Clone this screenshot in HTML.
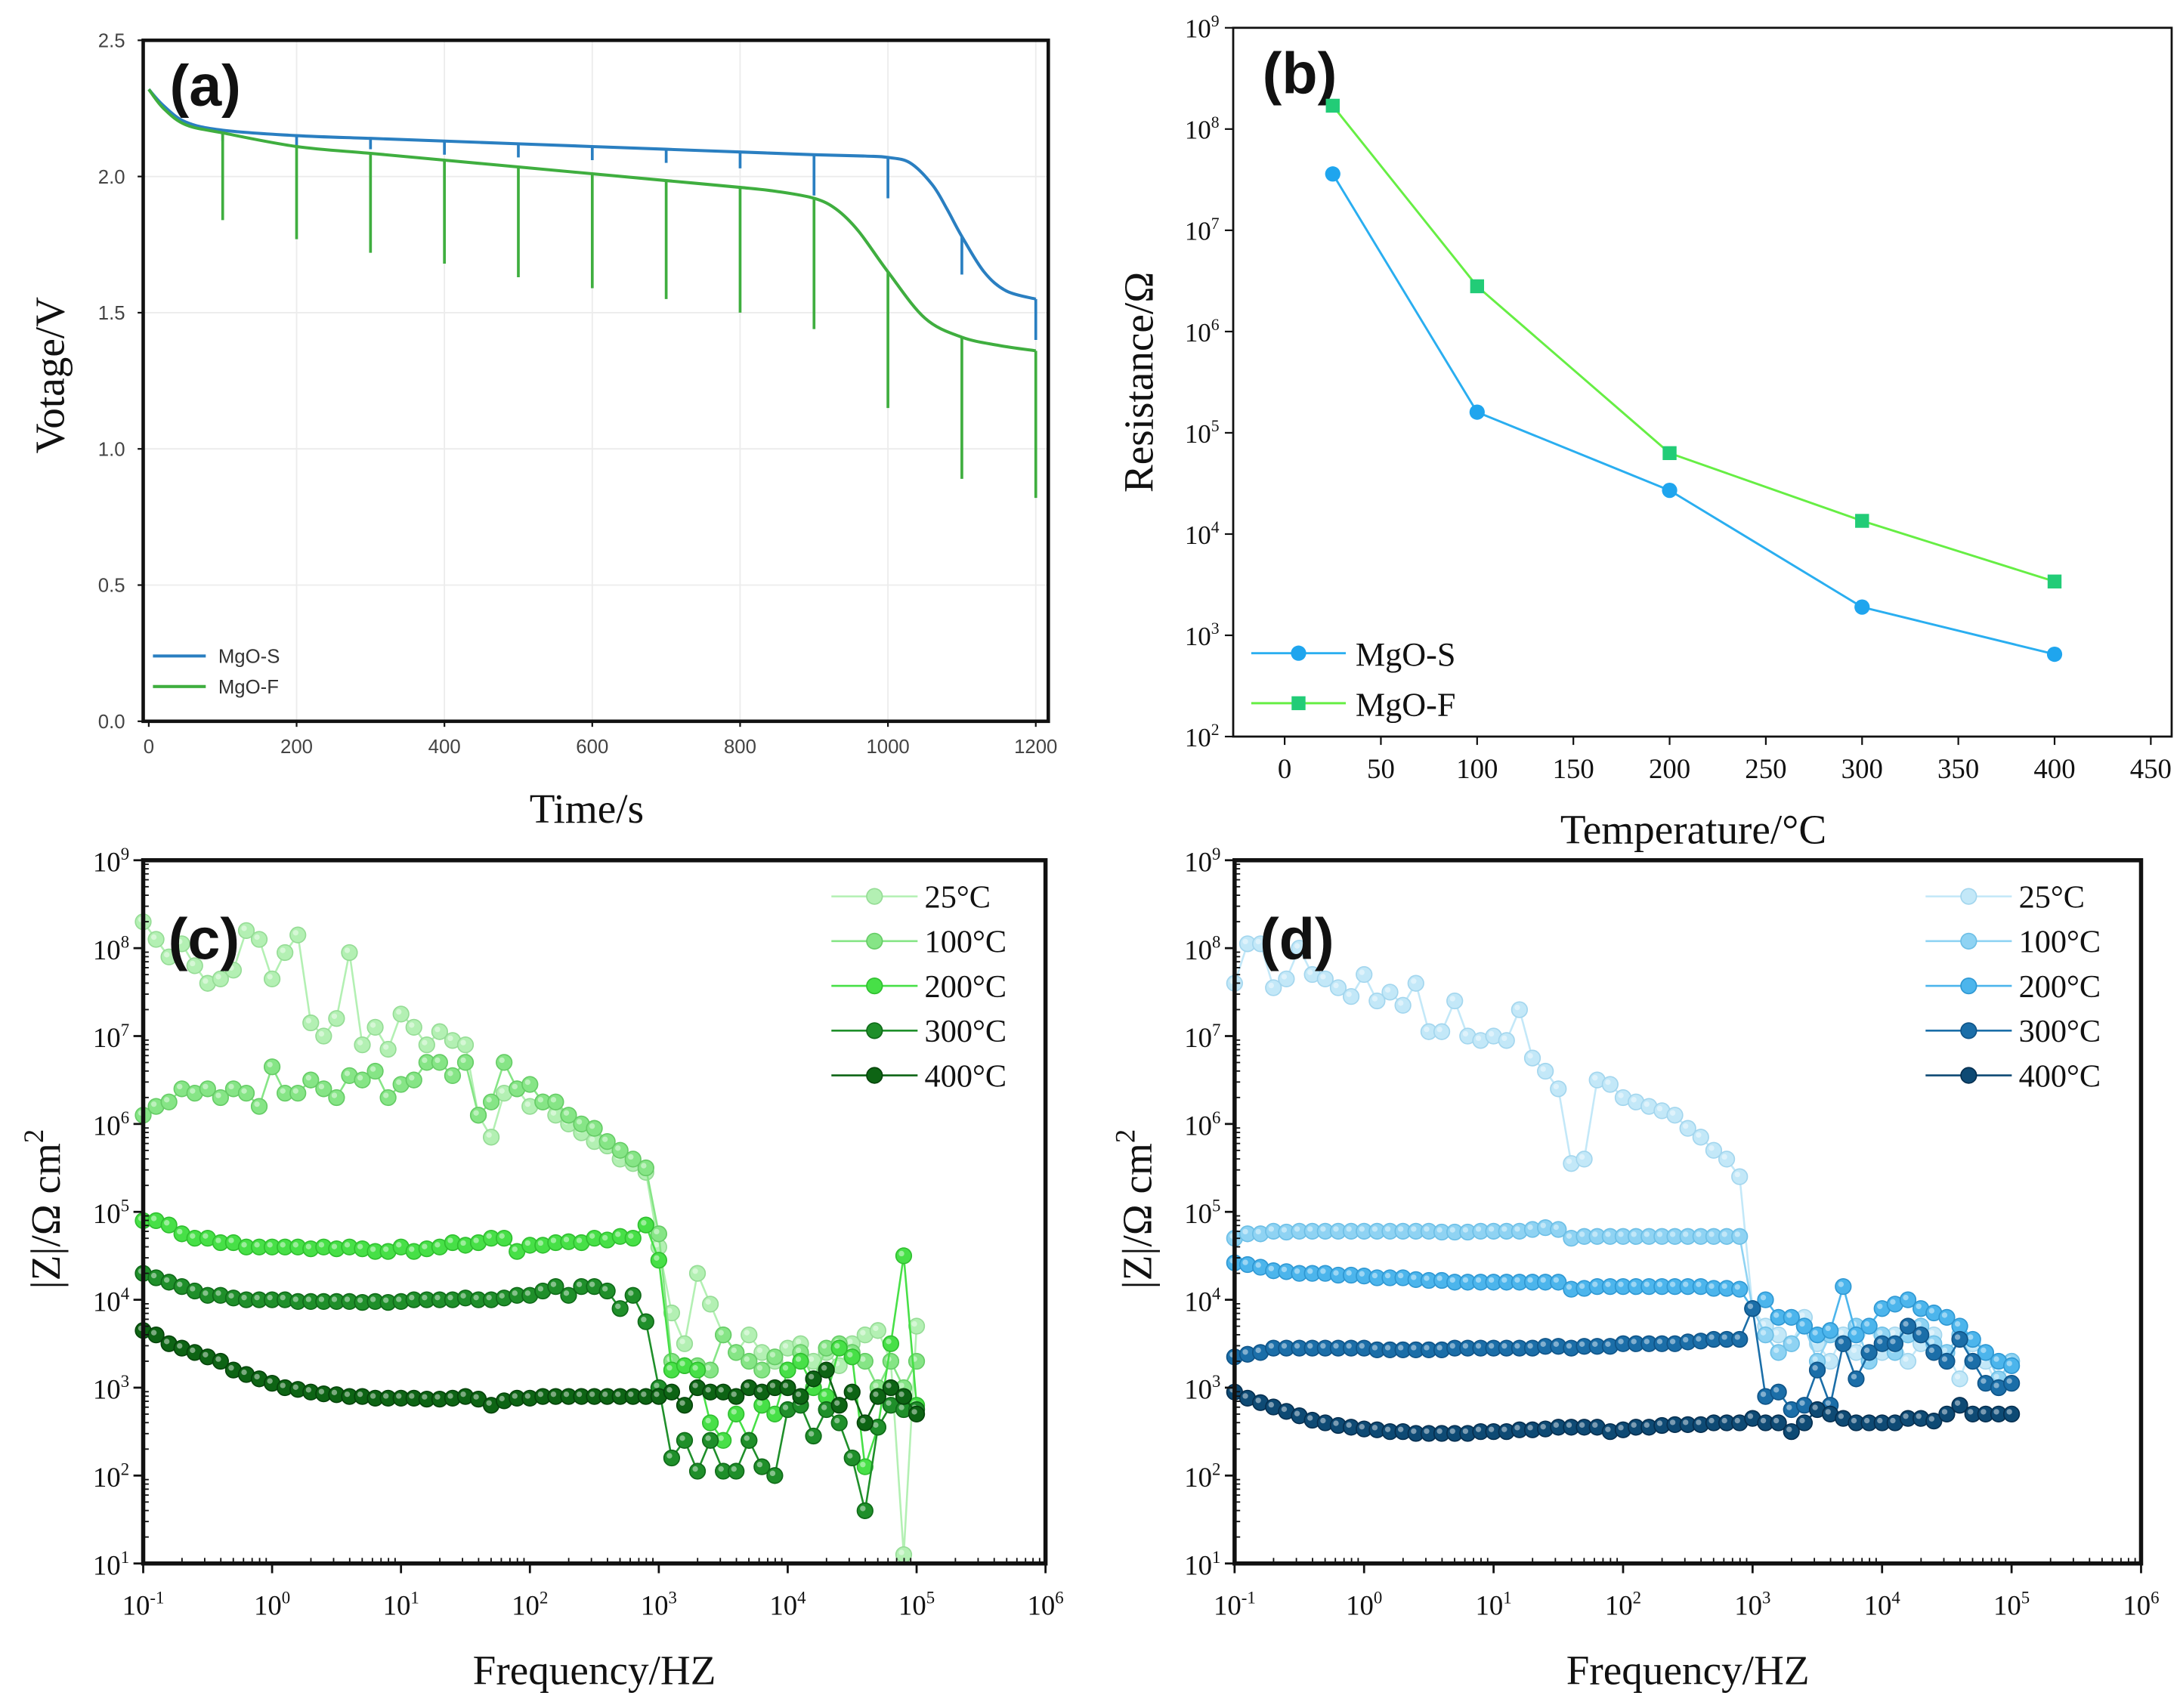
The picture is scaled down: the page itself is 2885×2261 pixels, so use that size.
<!DOCTYPE html>
<html><head><meta charset="utf-8"><style>
html,body{margin:0;padding:0;background:#fff;}
svg{display:block;}
</style></head><body>
<svg id="fig" xmlns="http://www.w3.org/2000/svg" width="2885" height="2261" viewBox="0 0 1568 1229" preserveAspectRatio="none">
<rect x="0" y="0" width="1568" height="1229" fill="#fff"/>
<g id="root"></g>
</svg>
<script>
// ---------- Panel (a) data ----------
const aTimeS = [0,20,50,100,200,300,400,500,600,700,800,900,970,1000,1030,1060,1080,1100,1130,1160,1200];
const aVoltS = [2.32,2.26,2.20,2.17,2.15,2.14,2.13,2.12,2.11,2.10,2.09,2.08,2.075,2.07,2.05,1.97,1.88,1.78,1.65,1.58,1.55];
const aTimeF = [0,20,50,100,200,300,400,500,600,700,800,850,900,930,960,1000,1050,1100,1150,1200];
const aVoltF = [2.32,2.25,2.19,2.16,2.11,2.085,2.06,2.035,2.01,1.985,1.96,1.945,1.92,1.88,1.80,1.65,1.48,1.41,1.38,1.36];
const aPulseT = [100,200,300,400,500,600,700,800,900,1000,1100,1200];
const aPulseMinS = [2.13,2.11,2.10,2.08,2.07,2.06,2.05,2.03,1.93,1.92,1.64,1.40];
const aPulseMinF = [1.84,1.77,1.72,1.68,1.63,1.59,1.55,1.50,1.44,1.15,0.89,0.82];
const aXTicks = [0,200,400,600,800,1000,1200];
const aYTicks = [0.0,0.5,1.0,1.5,2.0,2.5];
// ---------- Panel (b) data ----------
const bTemps = [25,100,200,300,400];
const bResS = [3.6e7,1.6e5,2.7e4,1.9e3,650];
const bResF = [1.7e8,2.8e6,6.3e4,1.35e4,3.4e3];
const bXTicks = [0,50,100,150,200,250,300,350,400,450];
const bYExp = [2,3,4,5,6,7,8,9];
// ---------- Panels (c),(d) data: index i -> f = 10^(-1+i/10) ----------
const freqExp = [-1,0,1,2,3,4,5,6];
const cLabels = ["25°C","100°C","200°C","300°C","400°C"];
const c25 = [8.3,8.1,7.9,8.05,7.8,7.6,7.65,7.75,8.2,8.1, 7.65,7.95,8.15,7.15,7.0,7.2,7.95,6.9,7.1,6.85, 7.25,7.1,6.9,7.05,6.95,6.9,6.1,5.85,6.35,6.4, 6.2,6.25,6.1,6.0,5.9,5.8,5.75,5.6,5.55,5.45, 4.6,3.85,3.5,4.3,3.95,3.6,3.4,3.6,3.4,3.3, 3.45,3.5,3.3,3.4,3.25,3.5,3.6,3.65,3.3,1.1, 3.7];
const c100 = [6.1,6.2,6.25,6.4,6.35,6.4,6.3,6.4,6.35,6.2, 6.65,6.35,6.35,6.5,6.4,6.3,6.55,6.5,6.6,6.3, 6.45,6.5,6.7,6.7,6.55,6.7,6.1,6.25,6.7,6.4, 6.45,6.25,6.25,6.1,6.0,5.95,5.8,5.7,5.6,5.5, 4.75,3.3,3.25,3.25,3.2,3.6,3.4,3.3,3.2,3.35, 3.2,3.4,3.1,3.45,3.5,3.4,3.3,3.0,3.3,3.0, 3.3];
const c200 = [4.9,4.9,4.85,4.75,4.7,4.7,4.65,4.65,4.6,4.6, 4.6,4.6,4.6,4.58,4.6,4.58,4.6,4.58,4.55,4.55, 4.6,4.55,4.58,4.6,4.65,4.62,4.65,4.7,4.7,4.55, 4.62,4.62,4.65,4.66,4.65,4.7,4.68,4.72,4.7,4.85, 4.45,3.2,3.25,3.2,2.6,2.4,2.7,2.4,2.8,2.7, 3.2,3.3,3.0,2.9,3.45,3.35,2.1,2.55,3.5,4.5, 2.8];
const c300 = [4.3,4.25,4.2,4.15,4.1,4.05,4.05,4.02,4.0,4.0, 4.0,4.0,3.98,3.98,3.98,3.98,3.98,3.97,3.98,3.97, 3.98,4.0,4.0,4.0,4.0,4.02,4.0,4.0,4.02,4.05, 4.05,4.1,4.15,4.05,4.15,4.15,4.1,3.9,4.05,3.75, 3.0,2.2,2.4,2.05,2.4,2.05,2.05,2.4,2.1,2.0, 2.75,2.8,2.45,2.75,2.6,2.2,1.6,2.55,2.8,2.75, 2.75];
const c400 = [3.65,3.6,3.5,3.45,3.4,3.35,3.3,3.2,3.15,3.1, 3.05,3.0,2.98,2.95,2.93,2.92,2.9,2.9,2.88,2.88, 2.88,2.88,2.87,2.87,2.88,2.9,2.87,2.8,2.85,2.88, 2.88,2.9,2.9,2.9,2.9,2.9,2.9,2.9,2.9,2.9, 2.9,2.95,2.8,3.0,2.95,2.95,2.9,3.0,2.95,3.0, 3.0,2.9,3.1,3.2,2.8,2.95,2.6,2.9,3.0,2.9, 2.7];
const d25 = [7.6,8.05,8.05,7.55,7.65,8.0,7.7,7.65,7.55,7.45, 7.7,7.4,7.5,7.35,7.6,7.05,7.05,7.4,7.0,6.95, 7.0,6.95,7.3,6.75,6.6,6.4,5.55,5.6,6.5,6.45, 6.3,6.25,6.2,6.15,6.1,5.95,5.85,5.7,5.6,5.4, 3.9,3.7,3.6,3.5,3.8,3.5,3.3,3.6,3.4,3.7, 3.4,3.6,3.3,3.5,3.6,3.4,3.1,3.5,3.3,3.0, 3.3];
const d100 = [4.7,4.75,4.75,4.78,4.77,4.78,4.78,4.78,4.78,4.78, 4.78,4.78,4.78,4.78,4.78,4.78,4.77,4.77,4.77,4.78, 4.78,4.78,4.78,4.8,4.82,4.8,4.7,4.72,4.72,4.72, 4.72,4.72,4.72,4.72,4.72,4.72,4.72,4.72,4.72,4.72, 3.9,3.6,3.4,3.5,3.7,3.3,3.6,3.5,3.7,3.3, 3.6,3.4,3.6,3.7,3.5,3.4,3.6,3.3,3.4,3.1, 3.3];
const d200 = [4.42,4.4,4.37,4.33,4.32,4.3,4.3,4.3,4.28,4.28, 4.27,4.25,4.25,4.25,4.23,4.22,4.22,4.2,4.2,4.2, 4.2,4.2,4.2,4.2,4.2,4.2,4.12,4.13,4.15,4.15, 4.15,4.15,4.15,4.15,4.15,4.15,4.15,4.13,4.13,4.12, 3.9,4.0,3.8,3.8,3.7,3.6,3.65,4.15,3.6,3.7, 3.9,3.95,4.0,3.9,3.85,3.8,3.7,3.55,3.4,3.3, 3.25];
const d300 = [3.35,3.38,3.4,3.45,3.45,3.45,3.45,3.45,3.45,3.45, 3.45,3.43,3.43,3.43,3.43,3.43,3.43,3.45,3.45,3.45, 3.45,3.45,3.45,3.45,3.47,3.47,3.45,3.47,3.47,3.47, 3.5,3.5,3.5,3.5,3.5,3.52,3.53,3.55,3.55,3.55, 3.9,2.9,2.95,2.75,2.8,3.2,2.8,3.5,3.1,3.4, 3.5,3.5,3.7,3.6,3.4,3.3,3.55,3.3,3.05,3.0, 3.05];
const d400 = [2.95,2.88,2.83,2.78,2.73,2.68,2.63,2.6,2.57,2.55, 2.53,2.52,2.5,2.5,2.48,2.48,2.48,2.48,2.48,2.5, 2.5,2.5,2.52,2.52,2.53,2.55,2.55,2.55,2.55,2.5, 2.52,2.55,2.55,2.57,2.58,2.58,2.58,2.6,2.6,2.6, 2.65,2.6,2.6,2.5,2.6,2.75,2.7,2.65,2.6,2.6, 2.6,2.6,2.65,2.65,2.62,2.7,2.8,2.7,2.7,2.7, 2.7];

const NS="http://www.w3.org/2000/svg";
const root=document.getElementById('root');
function el(tag,attrs,parent,text){const e=document.createElementNS(NS,tag);for(const k in attrs)e.setAttribute(k,attrs[k]);if(text!==undefined)e.textContent=text;(parent||root).appendChild(e);return e;}
const SERIF='"Liberation Serif", serif', SANS='"Liberation Sans", sans-serif';
function pts(arrX,arrY){return arrX.map((x,i)=>x.toFixed(2)+','+arrY[i].toFixed(2)).join(' ');}
function smoothPath(xs,ys){
  let d='M'+xs[0].toFixed(2)+','+ys[0].toFixed(2);
  for(let i=0;i<xs.length-1;i++){
    const x0=xs[Math.max(i-1,0)],y0=ys[Math.max(i-1,0)],x1=xs[i],y1=ys[i],x2=xs[i+1],y2=ys[i+1],x3=xs[Math.min(i+2,xs.length-1)],y3=ys[Math.min(i+2,xs.length-1)];
    const c1x=x1+(x2-x0)/6,c1y=y1+(y2-y0)/6,c2x=x2-(x3-x1)/6,c2y=y2-(y3-y1)/6;
    d+=' C'+c1x.toFixed(2)+','+c1y.toFixed(2)+' '+c2x.toFixed(2)+','+c2y.toFixed(2)+' '+x2.toFixed(2)+','+y2.toFixed(2);
  }
  return d;
}
function powLabel(g,x,y,exp,size,anchor){
  const t=el('text',{x:x,y:y,'font-family':SERIF,'font-size':size,'text-anchor':anchor||'middle',fill:'#111'},g);
  el('tspan',{},t,'10');
  el('tspan',{dy:-size*0.42,'font-size':size*0.62},t,String(exp));
  return t;
}

// ================= Panel (a) =================
(function(){
  const g=el('g',{});
  
  
  const X0=103,X1=754,Y0=29,Y1=519;
  const sx=t=>107+t/1200*(745-107), sy=v=>519-v/2.5*490;
  aYTicks.forEach(v=>{ if(v>0&&v<2.5) el('line',{x1:X0,x2:X1,y1:sy(v),y2:sy(v),stroke:'#ececec','stroke-width':1},g);});
  aXTicks.forEach(t=>{ if(t>0) el('line',{x1:sx(t),x2:sx(t),y1:Y0,y2:Y1,stroke:'#ececec','stroke-width':1},g);});
  aPulseT.forEach((t,i)=>{
    const k=aTimeS.indexOf(t); let v=k>=0?aVoltS[k]:aVoltS[aVoltS.length-1];
    const ln=el('line',{x1:sx(t),x2:sx(t),y1:sy(v),y2:sy(aPulseMinS[i]),stroke:'#2a7fc1','stroke-width':2},g);
    
    
  });
  const ls=el('path',{d:smoothPath(aTimeS.map(sx),aVoltS.map(sy)),fill:'none',stroke:'#2a7fc1','stroke-width':2.2},g);
  
  
  aPulseT.forEach((t,i)=>{
    const k=aTimeF.indexOf(t); let v=k>=0?aVoltF[k]:aVoltF[aVoltF.length-1];
    const ln=el('line',{x1:sx(t),x2:sx(t),y1:sy(v),y2:sy(aPulseMinF[i]),stroke:'#3fae3f','stroke-width':2},g);
    
    
  });
  const lf=el('path',{d:smoothPath(aTimeF.map(sx),aVoltF.map(sy)),fill:'none',stroke:'#3fae3f','stroke-width':2.2},g);
  
  
  el('rect',{x:X0,y:Y0,width:X1-X0,height:Y1-Y0,fill:'none',stroke:'#111','stroke-width':2.5},g);
  aXTicks.forEach(t=>{el('line',{x1:sx(t),x2:sx(t),y1:Y1,y2:Y1+4,stroke:'#111','stroke-width':1.2},g);
    el('text',{x:sx(t),y:Y1+23,'font-family':SANS,'font-size':14,'text-anchor':'middle',fill:'#444'},g,String(t));});
  aYTicks.forEach(v=>{el('line',{x1:X0-4,x2:X0,y1:sy(v),y2:sy(v),stroke:'#111','stroke-width':1.2},g);
    el('text',{x:X0-13,y:sy(v)+5,'font-family':SANS,'font-size':14,'text-anchor':'end',fill:'#444'},g,v.toFixed(1));});
  el('text',{x:422,y:592,'font-family':SERIF,'font-size':30,'text-anchor':'middle',fill:'#111'},g,'Time/s');
  el('text',{x:0,y:0,'font-family':SERIF,'font-size':30,'text-anchor':'middle',fill:'#111',transform:'translate(46,270) rotate(-90)'},g,'Votage/V');
  el('text',{x:122,y:76,'font-family':SANS,'font-size':42,'font-weight':'bold',fill:'#111'},g,'(a)');
  el('line',{x1:110,x2:148,y1:472,y2:472,stroke:'#2a7fc1','stroke-width':2.2},g);
  el('text',{x:157,y:477,'font-family':SANS,'font-size':14,fill:'#333'},g,'MgO-S');
  el('line',{x1:110,x2:148,y1:494,y2:494,stroke:'#3fae3f','stroke-width':2.2},g);
  el('text',{x:157,y:499,'font-family':SANS,'font-size':14,fill:'#333'},g,'MgO-F');
})();

// ================= Panel (b) =================
(function(){
  const g=el('g',{});
  
  
  const X0=887,X1=1562,Y0=20,Y1=530;
  const sx=t=>924+t/450*(1547-924), sy=r=>530-(Math.log10(r)-2)/7*510;
  el('rect',{x:X0,y:Y0,width:X1-X0,height:Y1-Y0,fill:'none',stroke:'#111','stroke-width':1.5},g);
  bXTicks.forEach(t=>{el('line',{x1:sx(t),x2:sx(t),y1:Y1,y2:Y1+6,stroke:'#111','stroke-width':1.2},g);
    el('text',{x:sx(t),y:Y1+30,'font-family':SERIF,'font-size':20,'text-anchor':'middle',fill:'#111'},g,String(t));});
  bYExp.forEach(e=>{const y=sy(Math.pow(10,e));el('line',{x1:X0-6,x2:X0,y1:y,y2:y,stroke:'#111','stroke-width':1.2},g);
    powLabel(g,X0-10,y+7,e,19,'end');});
  el('text',{x:1218,y:607,'font-family':SERIF,'font-size':30,'text-anchor':'middle',fill:'#111'},g,'Temperature/°C');
  el('text',{x:0,y:0,'font-family':SERIF,'font-size':30,'text-anchor':'middle',fill:'#111',transform:'translate(829,275) rotate(-90)'},g,'Resistance/Ω');
  el('text',{x:908,y:67,'font-family':SANS,'font-size':42,'font-weight':'bold',fill:'#111'},g,'(b)');
  const lS=el('polyline',{points:pts(bTemps.map(sx),bResS.map(sy)),fill:'none',stroke:'#2aaef0','stroke-width':1.6},g);
  
  
  const lF=el('polyline',{points:pts(bTemps.map(sx),bResF.map(sy)),fill:'none',stroke:'#66ee44','stroke-width':1.6},g);
  
  
  bTemps.forEach((t,i)=>{
    const c=el('circle',{cx:sx(t),cy:sy(bResS[i]),r:5.5,fill:'#1fa5ee'},g);
    
    
    const s=el('rect',{x:sx(t)-5,y:sy(bResF[i])-5,width:10,height:10,fill:'#22cc77'},g);
    
    
  });
  el('line',{x1:900,x2:968,y1:470,y2:470,stroke:'#2aaef0','stroke-width':1.6},g);
  el('circle',{cx:934,cy:470,r:5.5,fill:'#1fa5ee'},g);
  el('text',{x:975,y:479,'font-family':SERIF,'font-size':24,fill:'#111'},g,'MgO-S');
  el('line',{x1:900,x2:968,y1:506,y2:506,stroke:'#66ee44','stroke-width':1.6},g);
  el('rect',{x:929,y:501,width:10,height:10,fill:'#22cc77'},g);
  el('text',{x:975,y:515,'font-family':SERIF,'font-size':24,fill:'#111'},g,'MgO-F');
})();

// ================= Panels (c),(d) =================
function impedance(name,label,X0,X1,series,colors,legX){
  const Y0=619,Y1=1125;
  const g=el('g',{});
  
  
  const sx=e=>X0+(e+1)/7*(X1-X0), sy=e=>Y1-(e-1)/8*(Y1-Y0);
  series.forEach((arr,si)=>{
    const col=colors[si];
    const xs=arr.map((v,i)=>sx(-1+i/10)), ys=arr.map(v=>sy(v));
    const sg=el('g',{},g);
    
    
    el('polyline',{points:pts(xs,ys),fill:'none',stroke:col[0],'stroke-width':1.4},sg);
    xs.forEach((x,i)=>{
      el('circle',{cx:x,cy:ys[i],r:5.6,fill:col[0],stroke:col[1],'stroke-width':0.9},sg);
      el('circle',{cx:x-1.6,cy:ys[i]-1.6,r:2,fill:'#fff','fill-opacity':0.45},sg);
    });
  });
  el('rect',{x:X0,y:Y0,width:X1-X0,height:Y1-Y0,fill:'none',stroke:'#111','stroke-width':3},g);
  freqExp.forEach(e=>{const x=sx(e);
    el('line',{x1:x,x2:x,y1:Y1,y2:Y1+7,stroke:'#111','stroke-width':1.5},g);
    if(e<6) for(let k=2;k<10;k++){const xm=sx(e+Math.log10(k));el('line',{x1:xm,x2:xm,y1:Y1,y2:Y1-4,stroke:'#111','stroke-width':1},g);}
    powLabel(g,x,Y1+37,e,20,'middle');});
  for(let e=1;e<=9;e++){const y=sy(e);
    el('line',{x1:X0-7,x2:X0,y1:y,y2:y,stroke:'#111','stroke-width':1.5},g);
    if(e<9) for(let k=2;k<10;k++){const ym=sy(e+Math.log10(k));el('line',{x1:X0,x2:X0+4,y1:ym,y2:ym,stroke:'#111','stroke-width':1},g);}
    powLabel(g,X0-10,y+8,e,20,'end');}
  el('text',{x:(X0+X1)/2,y:1212,'font-family':SERIF,'font-size':30,'text-anchor':'middle',fill:'#111'},g,'Frequency/HZ');
  const yl=el('text',{x:0,y:0,'font-family':SERIF,'font-size':30,'text-anchor':'middle',fill:'#111',transform:'translate('+(X0-60)+',870) rotate(-90)'},g);
  el('tspan',{},yl,'|Z|/Ω cm');
  el('tspan',{dy:-12,'font-size':20},yl,'2');
  el('text',{x:X0+18,y:690,'font-family':SANS,'font-size':42,'font-weight':'bold',fill:'#111'},g,label);
  cLabels.forEach((lab,i)=>{const y=645+i*32.2;const col=colors[i];
    const lg=el('g',{},g);
    
    
    el('line',{x1:legX,x2:legX+62,y1:y,y2:y,stroke:col[0],'stroke-width':1.4},lg);
    el('circle',{cx:legX+31,cy:y,r:5.6,fill:col[0],stroke:col[1],'stroke-width':0.9},lg);
    el('text',{x:legX+67,y:y+8,'font-family':SERIF,'font-size':23,fill:'#111'},lg,lab);});
}
impedance('panel-c-impedance-chart','(c)',103,752,[c25,c100,c200,c300,c400],
  [['#b3f0b3','#95dc95'],['#86e586','#66cc66'],['#47e047','#2fbf2f'],['#1f8f2a','#0f6a18'],['#0d6414','#05440a']],598);
impedance('panel-d-impedance-chart','(d)',888,1540,[d25,d100,d200,d300,d400],
  [['#c3e8f8','#a3d6ee'],['#8fd3f3','#6dbfe6'],['#4cb5ec','#2f98d3'],['#1b6ea8','#0f5488'],['#0e4a74','#062f50']],1385);
</script>
</body></html>
